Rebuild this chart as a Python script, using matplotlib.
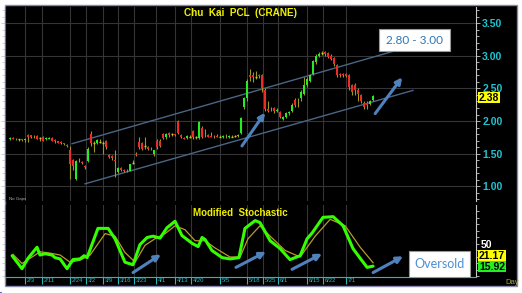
import matplotlib
matplotlib.use("Agg")
import matplotlib.pyplot as plt
from matplotlib.lines import Line2D
from matplotlib.patches import Rectangle
from matplotlib.transforms import blended_transform_factory

plt.rcParams['font.family'] = ['Liberation Sans', 'DejaVu Sans']

W, H = 522, 293

# daily candles, index 0 = first session shown
opens = [1.72, 1.74, 1.73, 1.72, 1.72, 1.71, 1.79, 1.78, 1.75, 1.77, 1.74, 1.76, 1.72, 1.73, 1.74, 1.71, 1.69, 1.68, 1.66, 1.64,
         1.55, 1.40, 1.12, 1.40, 1.37, 1.31, 1.39, 1.80, 1.67, 1.67, 1.68, 1.67, 1.70, 1.48, 1.47, 1.40, 1.22, 1.28, 1.25, 1.23,
         1.24, 1.36, 1.50, 1.68, 1.66, 1.62, 1.60, 1.58, 1.49, 1.70, 1.70, 1.80, 1.75, 1.82, 1.80, 1.80, 2.00, 1.78, 1.74, 1.74,
         1.76, 1.85, 1.75, 1.74, 1.90, 1.79, 1.78, 1.77, 1.76, 1.77, 1.76, 1.75, 1.76, 1.75, 1.76, 1.77, 1.77, 1.82, 2.21, 2.36,
         2.70, 2.70, 2.68, 2.70, 2.70, 2.47, 2.18, 2.18, 2.20, 2.16, 2.14, 2.03, 2.06, 2.12, 2.16, 2.32, 2.24, 2.36, 2.42, 2.55,
         2.62, 2.72, 2.90, 3.00, 3.04, 3.05, 3.04, 3.00, 2.96, 2.86, 2.72, 2.72, 2.72, 2.70, 2.55, 2.55, 2.48, 2.40, 2.28, 2.27,
         2.26, 2.32]
closes = [1.74, 1.73, 1.72, 1.72, 1.71, 1.73, 1.75, 1.75, 1.76, 1.73, 1.74, 1.70, 1.74, 1.74, 1.70, 1.70, 1.67, 1.66, 1.65, 1.62,
          1.35, 1.32, 1.39, 1.41, 1.36, 1.29, 1.58, 1.67, 1.67, 1.71, 1.68, 1.67, 1.60, 1.45, 1.43, 1.39, 1.28, 1.25, 1.23, 1.24,
          1.34, 1.36, 1.48, 1.60, 1.58, 1.62, 1.57, 1.57, 1.55, 1.60, 1.62, 1.74, 1.80, 1.78, 1.80, 1.79, 1.82, 1.76, 1.73, 1.77,
          1.76, 1.75, 1.75, 1.98, 1.76, 1.78, 1.76, 1.76, 1.75, 1.76, 1.76, 1.77, 1.75, 1.77, 1.76, 1.77, 1.78, 2.05, 2.35, 2.62,
          2.68, 2.68, 2.68, 2.69, 2.50, 2.19, 2.16, 2.19, 2.15, 2.17, 2.06, 2.06, 2.12, 2.14, 2.25, 2.24, 2.25, 2.45, 2.55, 2.65,
          2.70, 2.92, 3.00, 3.03, 3.04, 3.03, 2.98, 2.95, 2.88, 2.70, 2.71, 2.70, 2.69, 2.52, 2.45, 2.48, 2.42, 2.30, 2.22, 2.25,
          2.30, 2.38]
highs = [1.75, 1.75, 1.74, 1.73, 1.73, 1.74, 1.80, 1.79, 1.78, 1.78, 1.76, 1.77, 1.75, 1.75, 1.75, 1.72, 1.70, 1.69, 1.67, 1.65,
         1.62, 1.42, 1.41, 1.44, 1.39, 1.33, 1.60, 1.85, 1.70, 1.72, 1.72, 1.70, 1.71, 1.50, 1.48, 1.55, 1.30, 1.30, 1.26, 1.27,
         1.35, 1.40, 1.52, 1.75, 1.68, 1.75, 1.62, 1.60, 1.56, 1.72, 1.72, 1.82, 1.82, 1.84, 1.82, 1.81, 2.02, 1.80, 1.76, 1.78,
         1.78, 1.86, 1.77, 2.00, 1.92, 1.88, 1.80, 1.83, 1.78, 1.80, 1.79, 1.78, 1.80, 1.78, 1.78, 1.79, 1.80, 2.07, 2.37, 2.64,
         2.80, 2.75, 2.76, 2.72, 2.72, 2.50, 2.30, 2.22, 2.22, 2.20, 2.16, 2.08, 2.14, 2.16, 2.27, 2.35, 2.35, 2.48, 2.68, 2.67,
         2.72, 2.94, 3.02, 3.06, 3.08, 3.08, 3.06, 3.02, 2.98, 2.88, 2.74, 2.74, 2.73, 2.72, 2.57, 2.58, 2.50, 2.42, 2.30, 2.30,
         2.32, 2.40]
lows = [1.71, 1.72, 1.71, 1.70, 1.70, 1.68, 1.68, 1.74, 1.74, 1.72, 1.70, 1.69, 1.71, 1.72, 1.69, 1.66, 1.66, 1.65, 1.63, 1.60,
        1.12, 1.25, 1.10, 1.38, 1.34, 1.27, 1.38, 1.62, 1.52, 1.65, 1.66, 1.50, 1.58, 1.44, 1.40, 1.15, 1.20, 1.24, 1.22, 1.22,
        1.23, 1.34, 1.46, 1.58, 1.56, 1.58, 1.55, 1.55, 1.47, 1.58, 1.60, 1.72, 1.73, 1.76, 1.77, 1.77, 1.80, 1.74, 1.72, 1.73,
        1.74, 1.73, 1.73, 1.73, 1.74, 1.76, 1.75, 1.75, 1.74, 1.75, 1.75, 1.74, 1.74, 1.74, 1.75, 1.76, 1.76, 1.80, 2.18, 2.30,
        2.62, 2.60, 2.65, 2.66, 2.45, 2.15, 2.14, 2.15, 2.13, 2.14, 2.04, 2.01, 2.05, 2.10, 2.14, 2.22, 2.22, 2.30, 2.40, 2.52,
        2.60, 2.70, 2.88, 2.98, 3.01, 3.00, 2.96, 2.93, 2.85, 2.68, 2.68, 2.68, 2.67, 2.48, 2.40, 2.40, 2.30, 2.27, 2.18, 2.18,
        2.24, 2.30]

# modified stochastic, read at these candle positions
k_idx = [0.7, 4, 6, 9, 10, 11.7, 14, 15, 16.7, 19, 21, 23.3, 24.7, 25.7, 29.3, 32.7, 35, 38.3, 41, 43.3,
         45.7, 47.7, 50, 52.3, 55, 57.3, 60.7, 62.7, 64, 65, 67.3, 70.7, 73.3, 76.3, 78.3, 81.7, 83.3, 86.7, 90, 93.3,
         96.7, 99, 100.7, 104.3, 107.7, 111, 114.3, 116.7, 119, 121]
k_val = [32, 12, 28, 45, 33, 35, 33, 29, 27, 12, 26, 27, 32, 29, 74, 74, 58, 22, 18, 49,
         60, 62, 59, 75, 85, 63, 51, 46, 60, 57, 40, 29, 27, 29, 74, 86, 83, 55, 43, 26,
         32, 58, 67, 91, 92, 78, 43, 28, 14, 15.92]
d_idx = [1, 4, 6.7, 10, 13.3, 16.7, 20, 23.3, 26.7, 31.7, 35, 38.3, 41.7, 45, 48.3, 51.7, 55, 58.3, 61.7, 65,
         68.3, 73.3, 76.7, 79.3, 83.3, 86.7, 91.7, 96.7, 101.7, 106.7, 111.7, 116.7, 121]
d_val = [34, 20, 28, 38, 36, 33, 22, 25, 33, 66, 62, 37, 22, 48, 58, 66, 78, 72, 55, 55,
         44, 30, 30, 58, 78, 62, 40, 30, 62, 88, 78, 45, 21.17]

date_labels = ['2/3', '2/11', '2/24', '3/2', '3/9', '3/16', '3/23', '4/1', '4/13', '4/20',
               '5/5', '5/18', '5/25', '6/1', '6/15', '6/22', '7/1']
date_idx = [5, 10.7, 20, 25.3, 31, 36, 41.3, 48.7, 55, 60.3, 70, 79, 84.3, 89.3, 99, 104.3, 112]

price_ticks = [1.00, 1.50, 2.00, 2.50, 3.00, 3.50]
last_price = 2.38

# trend channel (index, price) end points
upper_chan = [(20.7, 1.654), (129, 3.085)]
lower_chan = [(25, 1.04), (134.3, 2.47)]


def fx(px):
    return px / W


def fy(py):
    return 1 - py / H


fig = plt.figure(figsize=(W / 100, H / 100), dpi=100, facecolor='white')
fig.patches.append(Rectangle((fx(5), fy(286)), fx(517) - fx(5), fy(5) - fy(286),
                             transform=fig.transFigure, facecolor='black',
                             edgecolor='#8888aa', lw=1, zorder=-10))

ax1 = fig.add_axes([fx(5), fy(201), fx(476) - fx(5), fy(7) - fy(201)])
ax2 = fig.add_axes([fx(5), fy(277), fx(476) - fx(5), fy(205) - fy(277)])
xmin, xmax = -1.67, 155.3

for ax in (ax1, ax2):
    ax.set_facecolor('black')
    ax.set_xlim(xmin, xmax)
    for s in ('top', 'bottom'):
        ax.spines[s].set_visible(False)
    ax.spines['left'].set_color('#6a6aa8')
    ax.spines['right'].set_color('#c8c8c8')
    ax.yaxis.tick_right()
    for xi in date_idx:
        ax.axvline(xi, color='#353535', lw=0.8, zorder=0)

# ---- price pane
ax1.set_ylim(0.777, 3.746)
for p in price_ticks:
    ax1.axhline(p, color='#353535', lw=0.8, zorder=0)
ax1.set_xticks([])
ax1.set_yticks(price_ticks)
ax1.set_yticklabels(['%.2f' % p for p in price_ticks], color='#1cc6d2',
                    fontsize=7.5, fontweight='bold')
ax1.set_yticks([x / 10 for x in range(8, 38)], minor=True)
ax1.tick_params(axis='y', which='both', right=True, left=True, direction='out',
                colors='#c8c8c8', length=2, width=0.6, pad=1.5, labelcolor='#1cc6d2')
ax1.tick_params(axis='y', which='major', length=3)

for i in range(len(opens)):
    o, c = opens[i], closes[i]
    ax1.vlines(i, lows[i], highs[i], color='#9a9a22', lw=0.8, zorder=2)
    if c > o:
        ax1.bar(i, c - o, bottom=o, width=0.75, color='#22ee22', zorder=3)
    elif c < o:
        ax1.bar(i, o - c, bottom=c, width=0.75, color='#ee2a2a', zorder=3)
    else:
        ax1.hlines(c, i - 0.45, i + 0.45, color='#c8c830', lw=1, zorder=3)

for chan in (upper_chan, lower_chan):
    ax1.plot([chan[0][0], chan[1][0]], [chan[0][1], chan[1][1]], color='#4a6684', lw=1, zorder=1)

arrow_kw = dict(arrowstyle='-|>', color='#4f81bd', lw=2.2, mutation_scale=9, shrinkA=0, shrinkB=0)
ax1.annotate('', xy=(85, 2.13), xytext=(77.3, 1.62), arrowprops=arrow_kw, zorder=4)
ax1.annotate('', xy=(130.7, 2.67), xytext=(121.7, 2.115), arrowprops=arrow_kw, zorder=4)

tr1 = blended_transform_factory(ax1.transAxes, ax1.transData)
ax1.text(1.006, last_price - 0.02, '%.2f' % last_price, transform=tr1, fontsize=7.5, fontweight='bold',
         color='black', va='center', ha='left', zorder=20,
         bbox=dict(boxstyle='square,pad=0.08', facecolor='#ffff00', edgecolor='none'))

# ---- stochastic pane
ax2.set_ylim(-0.8, 110)
ax2.plot(d_idx, d_val, color='#b89a2a', lw=0.9, zorder=3, solid_joinstyle='round')
ax2.plot(k_idx, k_val, color='#33ff00', lw=2.2, zorder=4, solid_joinstyle='round',
         solid_capstyle='round')
ax2.set_yticks([50])
ax2.set_yticklabels(['50'], color='white', fontsize=7.5, fontweight='bold')
ax2.set_yticks(range(0, 110, 10), minor=True)
ax2.tick_params(axis='y', which='both', right=True, left=True, direction='out',
                colors='#c8c8c8', length=2, width=0.6, pad=1.5, labelcolor='white')
ax2.spines['bottom'].set_visible(True)
ax2.spines['bottom'].set_color('#2ab8c0')
ax2.set_xticks(date_idx)
ax2.set_xticklabels([])
ax2.tick_params(axis='x', direction='out', length=5, width=0.8, colors='#2ab8c0')
trx = blended_transform_factory(ax2.transData, ax2.transAxes)
for xi, lab in zip(date_idx, date_labels):
    ax2.text(xi + 0.5, -0.055, lab, transform=trx, fontsize=4.2, color='#2ab8c0',
             ha='left', va='center', clip_on=False)

ax2.annotate('', xy=(50.3, 34), xytext=(41, 6), arrowprops=arrow_kw, zorder=5)
ax2.annotate('', xy=(85.3, 38), xytext=(75.3, 14), arrowprops=arrow_kw, zorder=5)
ax2.annotate('', xy=(104, 35), xytext=(94, 11), arrowprops=arrow_kw, zorder=5)
ax2.annotate('', xy=(131, 31), xytext=(121, 6), arrowprops=arrow_kw, zorder=5)

# ---- figure level decoration
fig.lines.append(Line2D([fx(5), fx(517)], [fy(202), fy(202)], color='#3838c8', lw=1.2))
fig.lines.append(Line2D([fx(5), fx(517)], [fy(204.3), fy(204.3)], color='#9a9ab8', lw=0.6))
fig.lines.append(Line2D([fx(5), fx(477)], [fy(284), fy(284)], color='#2ab8c0', lw=0.8))

fig.text(fx(241), fy(13), 'Chu  Kai  PCL  (CRANE)', color='#f0f000', fontsize=7.2,
         fontweight='bold', ha='center', va='center')
fig.text(fx(240), fy(212.5), 'Modified  Stochastic', color='#f0f000', fontsize=7.0,
         fontweight='bold', ha='center', va='center')
fig.text(fx(9), fy(199), 'No Gaps', color='#b0b0b0', fontsize=3.2, ha='left', va='center')

fig.text(fx(479), fy(256), '21.17', color='black', fontsize=7.5, fontweight='bold',
         ha='left', va='center', bbox=dict(boxstyle='square,pad=0.08', facecolor='#ffff00', edgecolor='none'))
fig.text(fx(479), fy(266.5), '15.92', color='black', fontsize=7.5, fontweight='bold',
         ha='left', va='center', bbox=dict(boxstyle='square,pad=0.08', facecolor='#22ee22', edgecolor='none'))
fig.text(fx(505), fy(283), 'Day', color='#a8a840', fontsize=5.5, ha='left', va='center')

fig.patches.append(Rectangle((fx(379), fy(51)), fx(450) - fx(379), fy(29) - fy(51),
                             transform=fig.transFigure, facecolor='white', edgecolor='#999999',
                             lw=0.8, zorder=10))
fig.text(fx(414.5), fy(40), '2.80 - 3.00', color='#2e75b6', fontsize=8.5, family='Lato',
         ha='center', va='center', zorder=11)
fig.patches.append(Rectangle((fx(409), fy(277)), fx(470) - fx(409), fy(251) - fy(277),
                             transform=fig.transFigure, facecolor='white', edgecolor='#999999',
                             lw=0.8, zorder=10))
fig.text(fx(439.5), fy(264), 'Oversold', color='#4a8fd6', fontsize=9, family='Lato',
         ha='center', va='center', zorder=11)

fig.savefig('out.png', dpi=100, facecolor='white')
